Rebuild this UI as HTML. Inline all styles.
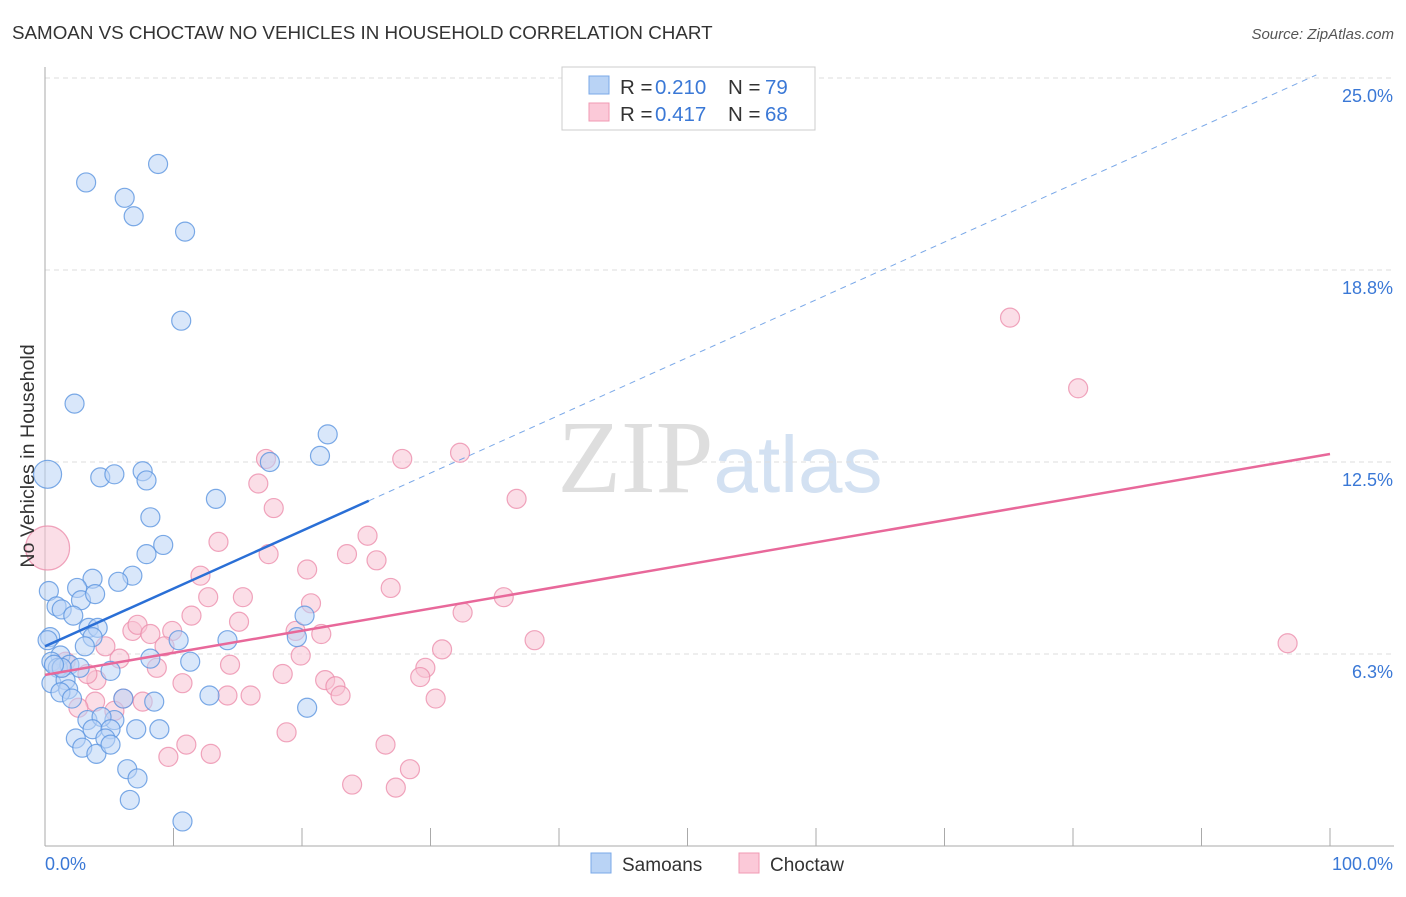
<!DOCTYPE html>
<html><head><meta charset="utf-8"><style>
body{margin:0;background:#fff;font-family:"Liberation Sans",sans-serif}
svg text{font-family:"Liberation Sans",sans-serif}
</style></head><body>
<svg id="chart" width="1406" height="892" viewBox="0 0 1406 892">
<text x="12" y="39" font-size="18.8" fill="#333">SAMOAN VS CHOCTAW NO VEHICLES IN HOUSEHOLD CORRELATION CHART</text>
<text x="1394" y="39" font-size="15" fill="#555" text-anchor="end" font-style="italic">Source: ZipAtlas.com</text>
<text x="720" y="492" font-size="104" text-anchor="middle"><tspan fill="#dedede" font-family="Liberation Serif">ZIP</tspan><tspan fill="#d3e1f2" font-size="80">atlas</tspan></text>
<g id="grid"></g>
<g id="axes"></g>
<g id="pts"></g>
<g id="trends"></g>
<text transform="translate(34,456) rotate(-90)" font-size="19.6" fill="#333" text-anchor="middle">No Vehicles in Household</text>
<g>
<rect x="562" y="67" width="253" height="63" fill="#fff" stroke="#ccc"/>
<rect x="589" y="76" width="20" height="18" fill="#b9d3f5" stroke="#7aa8e8"/>
<rect x="589" y="103" width="20" height="18" fill="#fbc9d8" stroke="#f09ab3"/>
<text x="620" y="94" font-size="20.5" fill="#333">R =</text>
<text x="655" y="94" font-size="20.5" fill="#3a78d6">0.210</text>
<text x="728" y="94" font-size="20.5" fill="#333">N =</text>
<text x="765" y="94" font-size="20.5" fill="#3a78d6">79</text>
<text x="620" y="121" font-size="20.5" fill="#333">R =</text>
<text x="655" y="121" font-size="20.5" fill="#3a78d6">0.417</text>
<text x="728" y="121" font-size="20.5" fill="#333">N =</text>
<text x="765" y="121" font-size="20.5" fill="#3a78d6">68</text>
</g>
<g>
<rect x="591" y="853" width="20" height="20" fill="#b9d3f5" stroke="#7aa8e8"/>
<text x="622" y="871" font-size="19" fill="#333">Samoans</text>
<rect x="739" y="853" width="20" height="20" fill="#fbc9d8" stroke="#f09ab3"/>
<text x="770" y="871" font-size="19" fill="#333">Choctaw</text>
</g>
</svg>
<script>
const yTicks=[6.25,12.5,18.75,25];
const yTickLabels=["6.3%","12.5%","18.8%","25.0%"];
const xTickLabels=["0.0%","100.0%"];
const samoanX=[3.2,6.2,6.9,8.8,10.9,10.6,2.3,0.2,4.3,5.4,7.6,7.9,13.3,17.5,21.4,22.0,8.2,9.2,7.9,6.8,3.7,2.5,5.7,0.3,0.9,2.8,3.9,1.3,2.2,3.4,4.1,3.7,0.4,0.2,3.1,10.4,14.2,19.6,20.2,1.2,0.5,1.0,1.9,2.7,5.1,8.2,11.3,0.5,1.6,1.8,1.2,2.1,6.1,8.5,12.8,20.4,3.3,5.4,4.4,3.7,5.1,7.1,8.9,2.4,4.7,2.9,4.0,5.1,6.4,7.2,6.6,10.7,1.3,0.7];
const samoanY=[21.6,21.1,20.5,22.2,20.0,17.1,14.4,12.1,12.0,12.1,12.2,11.9,11.3,12.5,12.7,13.4,10.7,9.8,9.5,8.8,8.7,8.4,8.6,8.3,7.8,8.0,8.2,7.7,7.5,7.1,7.1,6.8,6.8,6.7,6.5,6.7,6.7,6.8,7.5,6.2,6.0,5.8,5.9,5.8,5.7,6.1,6.0,5.3,5.4,5.1,5.0,4.8,4.8,4.7,4.9,4.5,4.1,4.1,4.2,3.8,3.8,3.8,3.8,3.5,3.5,3.2,3.0,3.3,2.5,2.2,1.5,0.8,5.8,5.9];
const choctawX=[0.2,75.1,80.4,32.3,27.8,17.2,16.6,36.7,17.8,25.1,13.5,23.5,25.8,17.4,20.4,26.9,12.1,15.4,12.7,20.7,35.7,32.5,11.4,15.1,6.8,7.2,8.2,9.9,9.3,4.7,19.5,21.5,38.1,96.7,19.9,30.9,5.8,8.7,14.4,29.6,18.5,21.8,22.6,10.7,4.0,3.3,29.2,23.0,30.4,14.2,16.0,7.6,6.1,3.9,2.6,5.4,18.8,11.0,26.5,12.9,9.6,28.4,23.9,27.3,1.3,1.6];
const choctawY=[9.7,17.2,14.9,12.8,12.6,12.6,11.8,11.3,11.0,10.1,9.9,9.5,9.3,9.5,9.0,8.4,8.8,8.1,8.1,7.9,8.1,7.6,7.5,7.3,7.0,7.2,6.9,7.0,6.5,6.5,7.0,6.9,6.7,6.6,6.2,6.4,6.1,5.8,5.9,5.8,5.6,5.4,5.2,5.3,5.4,5.6,5.5,4.9,4.8,4.9,4.9,4.7,4.8,4.7,4.5,4.4,3.7,3.3,3.3,3.0,2.9,2.5,2.0,1.9,5.8,6.0];
const samoanTrend=[6.5,0.188];
const choctawTrend=[5.57,0.0719];
const samoanSolidEnd=[25.2];
const NS="http://www.w3.org/2000/svg";
const X0=45,X1=1330,Y0=846,YPX=192/6.25;
const sx=v=>X0+(X1-X0)*v/100, sy=v=>Y0-v*YPX;
function mk(p,t,a){const e=document.createElementNS(NS,t);for(const k in a)e.setAttribute(k,a[k]);p.appendChild(e);return e;}
const grid=document.getElementById('grid'),axes=document.getElementById('axes');
yTicks.forEach((t,i)=>{
 const l=mk(grid,'line',{x1:X0,x2:1394,y1:sy(t),y2:sy(t),stroke:'#ddd','stroke-dasharray':'5,4'});
 
 
 const tx=mk(axes,'text',{x:1393,y:sy(t)+24,'font-size':18,fill:'#3a78d6','text-anchor':'end'});tx.textContent=yTickLabels[i];
 
 
});
const ya=mk(axes,'line',{x1:X0,x2:X0,y1:67,y2:Y0,stroke:'#aaa'});


const xa=mk(axes,'line',{x1:X0,x2:1394,y1:Y0,y2:Y0,stroke:'#aaa'});


for(let i=0;i<=10;i++){const tk=mk(axes,'line',{x1:sx(i*10),x2:sx(i*10),y1:Y0,y2:Y0-18,stroke:'#aaa'});
 
 }
const xl0=mk(axes,'text',{x:45,y:870,'font-size':18,fill:'#3a78d6'});xl0.textContent=xTickLabels[0];


const xl1=mk(axes,'text',{x:1393,y:870,'font-size':18,fill:'#3a78d6','text-anchor':'end'});xl1.textContent=xTickLabels[1];


const pts=document.getElementById('pts');
function draw(xs,ys,fill,stroke,name,bigIdx,bigR){xs.forEach((x,i)=>{
 const c=mk(pts,'circle',{cx:sx(x),cy:sy(ys[i]),r:i===bigIdx?bigR:9.5,fill:fill,'fill-opacity':0.55,stroke:stroke,'stroke-width':1.2,'stroke-opacity':0.8});
 
 
});}
draw(choctawX,choctawY,'#f8c3d3','#ec8fad','choctaw-point',0,22);
draw(samoanX,samoanY,'#b9d3f5','#5b95e0','samoan-point',7,14);
const tr=document.getElementById('trends');
const bi=samoanTrend[0],bs=samoanTrend[1],se=samoanSolidEnd[0];
const xe=Math.min(100,(25.1-bi)/bs);
const bl=mk(tr,'line',{x1:sx(0),y1:sy(bi),x2:sx(se),y2:sy(bi+bs*se),stroke:'#2a6fd6','stroke-width':2.5});


const bd=mk(tr,'line',{x1:sx(se),y1:sy(bi+bs*se),x2:sx(xe),y2:sy(bi+bs*xe),stroke:'#7aa8e8','stroke-width':1,'stroke-dasharray':'6,5'});


const pi=choctawTrend[0],ps=choctawTrend[1];
const pl=mk(tr,'line',{x1:sx(0),y1:sy(pi),x2:sx(100),y2:sy(pi+ps*100),stroke:'#e8689a','stroke-width':2.5});


</script>
</body></html>
